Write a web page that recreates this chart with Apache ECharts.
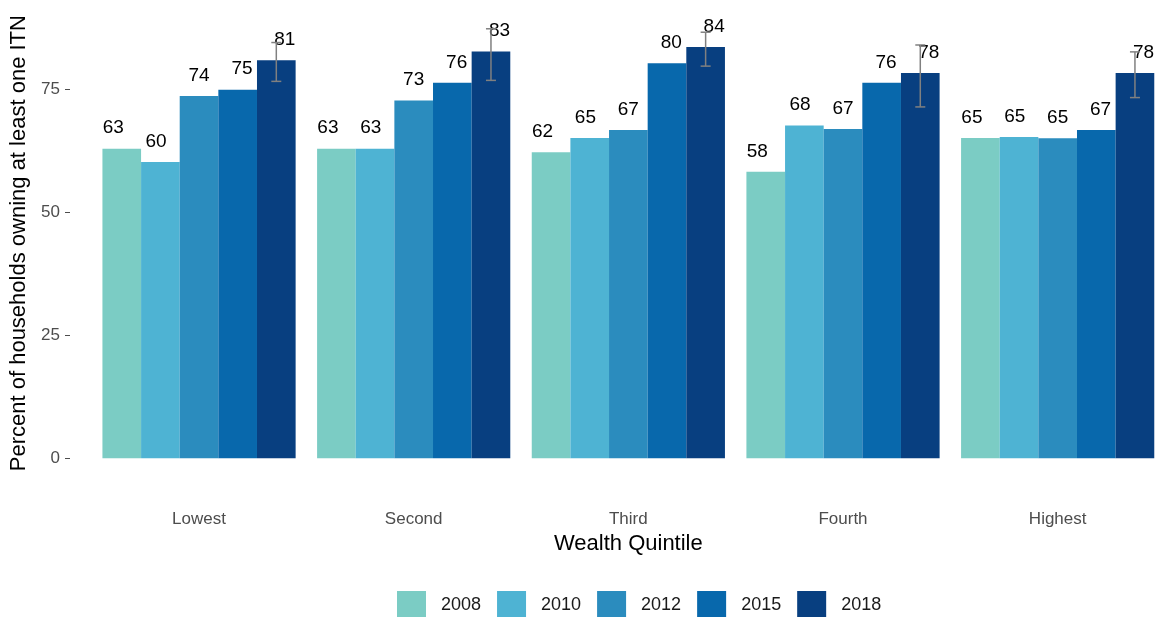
<!DOCTYPE html>
<html>
<head>
    <meta charset="UTF-8"/>
    <script type="text/javascript" src="https://cdn.jsdelivr.net/npm/echarts@6/dist/echarts.min.js"></script>
    <title>ITN ownership by wealth quintile</title>
    <style>
        html, body {margin: 0; padding: 0; background: #fff;}
        #main {width: 1165px; height: 617px;}
    </style>
</head>
<body>
<div id="main"></div>
<script type="text/javascript">
    // data
    var quintiles = ['Lowest', 'Second', 'Third', 'Fourth', 'Highest']
    var years = ['2008', '2010', '2012', '2015', '2018']
    var v2008 = [63.0, 63.0, 62.3, 58.3, 65.2]
    var v2010 = [60.3, 63.0, 65.2, 67.7, 65.4]
    var v2012 = [73.7, 72.8, 66.8, 67.0, 65.1]
    var v2015 = [75.0, 76.4, 80.4, 76.4, 66.8]
    var v2018 = [81.0, 82.8, 83.7, 78.4, 78.4]
    var err2018Low = [76.7, 76.9, 79.8, 71.5, 73.4]
    var err2018High = [84.6, 87.4, 86.7, 84.1, 82.7]
    var yTicks = [0, 25, 50, 75]

    var colors = ['#7bccc4', '#4eb3d3', '#2b8cbe', '#0868ac', '#083f80']
    var font = "'Liberation Sans', Arial, sans-serif"

    var myChart = echarts.init(document.getElementById('main'))

    var allValues = [v2008, v2010, v2012, v2015, v2018]
    // labels are spread a bit wider than the bars themselves
    var labelShift = [-8.5, -4.3, 0, 4.3, 8.5]

    var series = []
    for (var i = 0; i < years.length; i++) {
        series.push({
            name: years[i],
            type: 'bar',
            data: allValues[i],
            barGap: '0%',
            barCategoryGap: '10%',
            itemStyle: {color: colors[i]},
            label: {
                show: true,
                position: 'top',
                distance: 11,
                offset: [labelShift[i], 0],
                fontSize: 19,
                fontFamily: font,
                color: '#000',
                formatter: function (p) {
                    return Math.round(p.value)
                }
            }
        })
    }

    var errData = []
    for (var j = 0; j < quintiles.length; j++) {
        errData.push([j, err2018Low[j], err2018High[j]])
    }

    series.push({
        name: 'err',
        type: 'custom',
        z: 5,
        data: errData,
        encode: {x: 0, y: [1, 2]},
        renderItem: function (params, api) {
            var band = api.size([1, 0])[0]
            var lo = api.coord([api.value(0), api.value(1)])
            var hi = api.coord([api.value(0), api.value(2)])
            // 2018 is the fifth bar: two bar widths right of the centre
            var x = lo[0] + band * 0.9 / 5 * 2
            var cap = 5
            var style = {stroke: '#808080', lineWidth: 1.5}
            return {
                type: 'group',
                children: [
                    {type: 'line', shape: {x1: x, y1: lo[1], x2: x, y2: hi[1]}, style: style},
                    {type: 'line', shape: {x1: x - cap, y1: lo[1], x2: x + cap, y2: lo[1]}, style: style},
                    {type: 'line', shape: {x1: x - cap, y1: hi[1], x2: x + cap, y2: hi[1]}, style: style}
                ]
            }
        }
    })

    var option = {
        animation: false,
        backgroundColor: '#fff',
        textStyle: {fontFamily: font},
        grid: {left: 91.7, width: 1080, top: 16, height: 442.3},
        legend: {
            data: years,
            left: 397,
            top: 591,
            padding: 0,
            itemWidth: 29,
            itemHeight: 29,
            itemGap: 16,
            icon: 'rect',
            textStyle: {fontSize: 18, color: '#1a1a1a', fontFamily: font, padding: [0, 0, 0, 10]}
        },
        xAxis: {
            type: 'category',
            data: quintiles,
            name: 'Wealth Quintile',
            nameLocation: 'middle',
            nameGap: 75,
            nameTextStyle: {fontSize: 22, color: '#000', fontFamily: font},
            axisLine: {show: false},
            axisTick: {show: false},
            axisLabel: {margin: 53, fontSize: 17, color: '#4d4d4d', fontFamily: font},
            splitLine: {show: false}
        },
        yAxis: {
            type: 'value',
            min: 0,
            max: 90,
            offset: 21.7,
            name: 'Percent of households owning at least one ITN',
            nameLocation: 'middle',
            nameGap: 34,
            nameTextStyle: {fontSize: 22, color: '#000', fontFamily: font, padding: [0, 12, 0, 0]},
            axisLine: {show: false},
            axisTick: {show: true, length: 5, customValues: yTicks, lineStyle: {color: '#4d4d4d', width: 1}},
            axisLabel: {margin: 10, fontSize: 17, color: '#4d4d4d', fontFamily: font, customValues: yTicks},
            splitLine: {show: false}
        },
        series: series
    }

    myChart.setOption(option)
</script>
</body>
</html>
